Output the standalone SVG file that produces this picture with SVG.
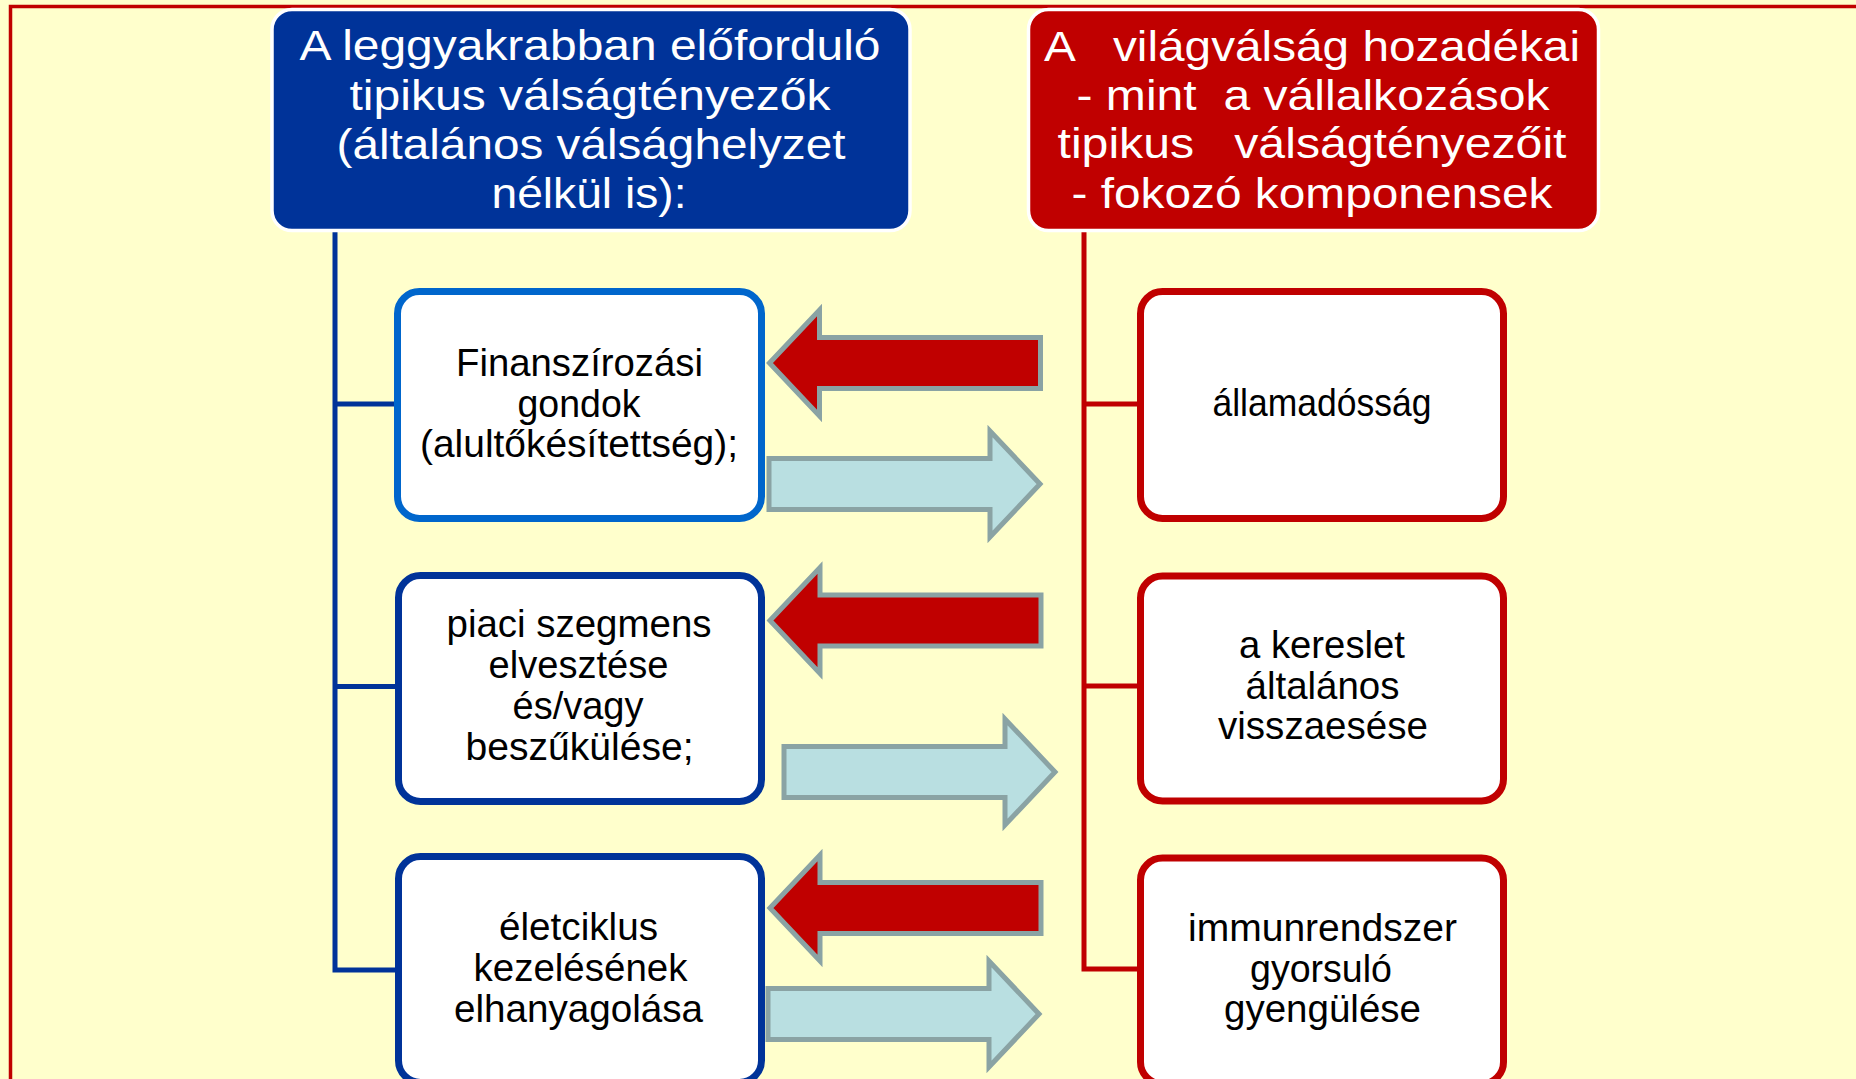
<svg xmlns="http://www.w3.org/2000/svg" xmlns:xlink="http://www.w3.org/1999/xlink" width="1856" height="1079" viewBox="0 0 1856 1079">
<style>
.hdr{font-family:"Liberation Sans",Arial,sans-serif;font-size:42px;fill:#ffffff;text-anchor:middle;white-space:pre}
.nt{font-family:"Liberation Sans",Arial,sans-serif;font-size:38.5px;fill:#000000;text-anchor:middle}
.nbox{fill:#ffffff;stroke-width:7}
.blue{stroke:#003399}
.lblue{stroke:#0066CC}
.red{stroke:#C00000}
.conn{fill:none;stroke-width:5}
.arR{fill:#C00000;stroke:#8AA3A4;stroke-width:5}
.arB{fill:#B9DFE1;stroke:#8AA3A4;stroke-width:5}
</style>
<defs>
<path id="la" d="M0,0 L50,-53 L50,-25.5 L271,-25.5 L271,25.5 L50,25.5 L50,53 Z"/>
<path id="ra" d="M0,0 L-50,-53 L-50,-25.5 L-271,-25.5 L-271,25.5 L-50,25.5 L-50,53 Z"/>
</defs>
<rect x="0" y="0" width="1856" height="1079" fill="#FFFFCC"/>
<path d="M10.5,1085 V6.5 H1860" fill="none" stroke="#C00000" stroke-width="3.5"/>

<g id="connectors">
<path class="conn" stroke="#003399" d="M335,232 V970 H398 M335,404 H398 M335,686.5 H398"/>
<path class="conn" stroke="#C00000" d="M1084,232 V969 H1140 M1084,404 H1140 M1084,686 H1140"/>
<use xlink:href="#la" class="arR" transform="translate(769.5,363)"/>
<use xlink:href="#ra" class="arB" transform="translate(1040,484)"/>
<use xlink:href="#la" class="arR" transform="translate(770,620.5)"/>
<use xlink:href="#ra" class="arB" transform="translate(1055,772)"/>
<use xlink:href="#la" class="arR" transform="translate(770,908)"/>
<use xlink:href="#ra" class="arB" transform="translate(1039,1014)"/>
</g>

<g id="hdr-left">
<rect x="272" y="9.5" width="638" height="221" rx="20" fill="#003399" stroke="#ffffff" stroke-width="3.5"/>
<text class="hdr" x="590" y="60" textLength="581" lengthAdjust="spacingAndGlyphs">A leggyakrabban előforduló</text>
<text class="hdr" x="590" y="109.5" textLength="481" lengthAdjust="spacingAndGlyphs">tipikus válságtényezők</text>
<text class="hdr" x="591" y="158.5" textLength="509" lengthAdjust="spacingAndGlyphs">(általános válsághelyzet</text>
<text class="hdr" x="589" y="208" textLength="195" lengthAdjust="spacingAndGlyphs">nélkül is):</text>
</g>

<g id="hdr-right">
<rect x="1028.5" y="9.5" width="570" height="221" rx="20" fill="#C00000" stroke="#ffffff" stroke-width="3.5"/>
<text class="hdr" x="1312" y="60.5" textLength="536" lengthAdjust="spacingAndGlyphs">A   világválság hozadékai</text>
<text class="hdr" x="1313" y="110" textLength="473" lengthAdjust="spacingAndGlyphs">- mint  a vállalkozások</text>
<text class="hdr" x="1312" y="157.5" textLength="509" lengthAdjust="spacingAndGlyphs">tipikus   válságtényezőit</text>
<text class="hdr" x="1312" y="208" textLength="481" lengthAdjust="spacingAndGlyphs">- fokozó komponensek</text>
</g>

<g id="n-finansz">
<rect class="nbox lblue" x="397.5" y="291.5" width="364" height="227" rx="22"/>
<text class="nt" x="579.5" y="376" textLength="247" lengthAdjust="spacingAndGlyphs">Finanszírozási</text>
<text class="nt" x="579" y="416.5" textLength="123" lengthAdjust="spacingAndGlyphs">gondok</text>
<text class="nt" x="579" y="457" textLength="318" lengthAdjust="spacingAndGlyphs">(alultőkésítettség);</text>
</g>

<g id="n-piaci">
<rect class="nbox blue" x="398.5" y="575.5" width="363" height="226" rx="22"/>
<text class="nt" x="579" y="637" textLength="265" lengthAdjust="spacingAndGlyphs">piaci szegmens</text>
<text class="nt" x="578.5" y="678" textLength="180" lengthAdjust="spacingAndGlyphs">elvesztése</text>
<text class="nt" x="578" y="719" textLength="131" lengthAdjust="spacingAndGlyphs">és/vagy</text>
<text class="nt" x="579.5" y="760" textLength="228" lengthAdjust="spacingAndGlyphs">beszűkülése;</text>
</g>

<g id="n-eletciklus">
<rect class="nbox blue" x="398.5" y="856.5" width="363" height="226" rx="22"/>
<text class="nt" x="578.5" y="940" textLength="159" lengthAdjust="spacingAndGlyphs">életciklus</text>
<text class="nt" x="580.5" y="981" textLength="214" lengthAdjust="spacingAndGlyphs">kezelésének</text>
<text class="nt" x="578.5" y="1022" textLength="249" lengthAdjust="spacingAndGlyphs">elhanyagolása</text>
</g>

<g id="n-allamadossag">
<rect class="nbox red" x="1140.5" y="291.5" width="363" height="227" rx="22"/>
<text class="nt" x="1322" y="416" textLength="219" lengthAdjust="spacingAndGlyphs">államadósság</text>
</g>

<g id="n-kereslet">
<rect class="nbox red" x="1140.5" y="576" width="363" height="225" rx="22"/>
<text class="nt" x="1322" y="658" textLength="166" lengthAdjust="spacingAndGlyphs">a kereslet</text>
<text class="nt" x="1322.5" y="698.5" textLength="154" lengthAdjust="spacingAndGlyphs">általános</text>
<text class="nt" x="1323" y="739" textLength="210" lengthAdjust="spacingAndGlyphs">visszaesése</text>
</g>

<g id="n-immun">
<rect class="nbox red" x="1140.5" y="858" width="363" height="226" rx="22"/>
<text class="nt" x="1322.5" y="941" textLength="269" lengthAdjust="spacingAndGlyphs">immunrendszer</text>
<text class="nt" x="1321" y="982" textLength="142" lengthAdjust="spacingAndGlyphs">gyorsuló</text>
<text class="nt" x="1322.5" y="1022" textLength="197" lengthAdjust="spacingAndGlyphs">gyengülése</text>
</g>
</svg>
